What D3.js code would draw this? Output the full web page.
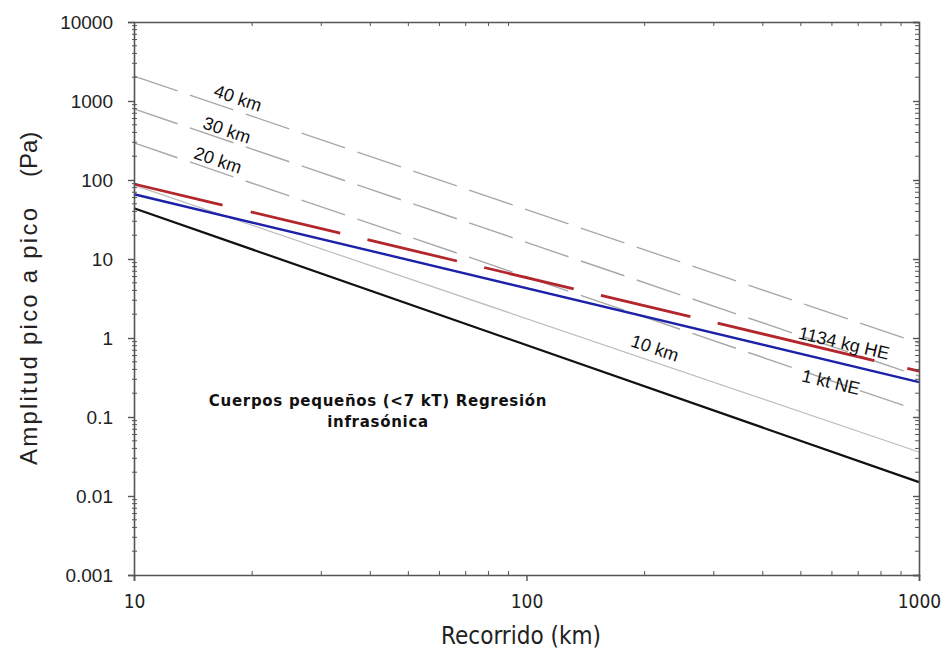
<!DOCTYPE html>
<html>
<head>
<meta charset="utf-8">
<script src="https://cdn.jsdelivr.net/npm/d3@7"></script>
<style>
  html, body { margin: 0; padding: 0; background: #fff; }
  svg { display: block; }
  .tick text { font-family: "Liberation Sans", Arial, sans-serif; }
</style>
</head>
<body>
<svg id="chart" width="946" height="652"></svg>
<script>
// ---------- data ----------
const xDomain = [10, 1000];
const yDomain = [0.001, 10000];
const xTicks = [10, 100, 1000];
const xTickLabels = ["10", "100", "1000"];
const yTicks = [0.001, 0.01, 0.1, 1, 10, 100, 1000, 10000];
const yTickLabels = ["0.001", "0.01", "0.1", "1", "10", "100", "1000", "10000"];

// line endpoints (range km -> amplitude Pa)
const rangeKm = [10, 1000];
const alt40km = [2070, 0.86];
const alt30km = [794, 0.33];
const alt20km = [295, 0.12];
const alt10km = [86, 0.036];
const he1134kg = [89, 0.38];
const ne1kt = [66, 0.277];
const regression = [44, 0.015];

const xTitle = "Recorrido (km)";
const yTitleMain = "Amplitud pico a pico";
const yTitleUnit = "(Pa)";
const noteLines = ["Cuerpos pequeños (<7 kT) Regresión", "infrasónica"];

// ---------- layout ----------
const svg = d3.select("#chart");
const L = 134, R = 919, T = 22, B = 575;
const x = d3.scaleLog().domain(xDomain).range([L, R]);
const y = d3.scaleLog().domain(yDomain).range([B, T]);

const axisColor = "#555";

// minor tick values
const xMinor = [];
for (let d = 10; d < 1000; d *= 10) for (let k = 2; k <= 9; k++) xMinor.push(d * k);
const yMinor = [];
for (let d = 0.001; d < 10000; d *= 10) for (let k = 2; k <= 9; k++) yMinor.push(+(d * k).toPrecision(3));

// ---------- series ----------
const mk = (vals) => rangeKm.map((r, i) => ({ r, v: vals[i] }));
const line = d3.line().x(d => x(d.r)).y(d => y(d.v));
const plot = svg.append("g");

const series = [
  { vals: alt10km, stroke: "#bcbcbc", w: 1.2, dash: null },
  { vals: alt20km, stroke: "#a8a8a8", w: 1.4, dash: "46,13" },
  { vals: alt30km, stroke: "#a8a8a8", w: 1.4, dash: "46,13" },
  { vals: alt40km, stroke: "#a8a8a8", w: 1.4, dash: "46,13" },
  { vals: regression, stroke: "#111", w: 2.2, dash: null },
  { vals: ne1kt, stroke: "#1c22a8", w: 2.4, dash: null },
  { vals: he1134kg, stroke: "#b3262b", w: 2.8, dash: "91,29,92,28,92,28,92,28,92,28,161,34,40,1000" }
];
series.forEach(s => {
  plot.append("path")
    .datum(mk(s.vals))
    .attr("d", line)
    .attr("fill", "none")
    .attr("stroke", s.stroke)
    .attr("stroke-width", s.w)
    .attr("stroke-dasharray", s.dash);
});

// ---------- axes ----------
const gx = svg.append("g").attr("transform", `translate(0,${B})`)
  .call(d3.axisBottom(x).tickValues(xTicks).tickFormat((d, i) => xTickLabels[i]).tickSize(6).tickPadding(14));
gx.select(".domain").attr("stroke", axisColor).attr("stroke-width", 1.6);
gx.selectAll(".tick line").attr("stroke", axisColor).attr("stroke-width", 1.4);
gx.selectAll(".tick text").attr("fill", "#222")
  .style("font-family", "'Liberation Sans Narrow','DejaVu Sans Condensed',sans-serif").style("font-size", "19px");
gx.append("g").selectAll("line").data(xMinor).join("line")
  .attr("x1", d => x(d)).attr("x2", d => x(d)).attr("y1", 0).attr("y2", -4)
  .attr("stroke", axisColor).attr("stroke-width", 1);

const gy = svg.append("g").attr("transform", `translate(${L},0)`)
  .call(d3.axisLeft(y).tickValues(yTicks).tickFormat((d, i) => yTickLabels[i]).tickSize(6).tickPadding(15));
gy.select(".domain").attr("stroke", axisColor).attr("stroke-width", 1.6);
gy.selectAll(".tick line").attr("stroke", axisColor).attr("stroke-width", 1.4);
gy.selectAll(".tick text").attr("fill", "#222").style("font-size", "19px");
gy.append("g").selectAll("line").data(yMinor).join("line")
  .attr("x1", -2).attr("x2", 3).attr("y1", d => y(d)).attr("y2", d => y(d))
  .attr("stroke", axisColor).attr("stroke-width", 1);

// top frame
const gt = svg.append("g").attr("transform", `translate(0,${T})`)
  .call(d3.axisTop(x).tickValues(xTicks).tickFormat("").tickSize(0));
gt.select(".domain").attr("stroke", axisColor).attr("stroke-width", 1.6);
gt.append("g").selectAll("line").data(xMinor).join("line")
  .attr("x1", d => x(d)).attr("x2", d => x(d)).attr("y1", 0).attr("y2", 4)
  .attr("stroke", axisColor).attr("stroke-width", 1);

// right frame
const gr = svg.append("g").attr("transform", `translate(${R},0)`)
  .call(d3.axisRight(y).tickValues(yTicks).tickFormat("").tickSize(-6));
gr.select(".domain").attr("stroke", axisColor).attr("stroke-width", 1.6);
gr.selectAll(".tick line").attr("stroke", axisColor).attr("stroke-width", 1.4);
gr.append("g").selectAll("line").data(yMinor).join("line")
  .attr("x1", -4).attr("x2", 0).attr("y1", d => y(d)).attr("y2", d => y(d))
  .attr("stroke", axisColor).attr("stroke-width", 1);

// ---------- titles ----------
svg.append("text")
  .attr("x", 521).attr("y", 644)
  .attr("text-anchor", "middle")
  .style("font-family", "'Liberation Sans Narrow','DejaVu Sans Condensed',sans-serif")
  .style("font-size", "24px").attr("fill", "#222")
  .text(xTitle);

// y title: main part from y=465 up to y=208, unit from 177 to 132
svg.append("text")
  .attr("transform", `translate(37,465) rotate(-90)`)
  .attr("text-anchor", "start")
  .attr("textLength", 257).attr("lengthAdjust", "spacing")
  .style("font-family", "'Liberation Sans', Arial, sans-serif")
  .style("font-size", "24px").attr("fill", "#222")
  .text(yTitleMain);
svg.append("text")
  .attr("transform", `translate(37,177) rotate(-90)`)
  .attr("text-anchor", "start")
  .style("font-family", "'Liberation Sans', Arial, sans-serif")
  .style("font-size", "24px").attr("fill", "#222")
  .text(yTitleUnit);

// ---------- annotations on lines ----------
function angleOf(vals) {
  const p = mk(vals);
  const dx = x(p[1].r) - x(p[0].r), dy = y(p[1].v) - y(p[0].v);
  return Math.atan2(dy, dx) * 180 / Math.PI;
}
const lineLabels = [
  { text: "40 km", cx: 238, cy: 98, vals: alt40km },
  { text: "30 km", cx: 227, cy: 130, vals: alt30km },
  { text: "20 km", cx: 218, cy: 160, vals: alt20km },
  { text: "10 km", cx: 655, cy: 348, vals: alt10km },
  { text: "1134 kg HE", cx: 844, cy: 343, vals: he1134kg },
  { text: "1 kt NE", cx: 831, cy: 382, vals: ne1kt }
];
lineLabels.forEach(l => {
  svg.append("text")
    .attr("transform", `translate(${l.cx},${l.cy}) rotate(${angleOf(l.vals)})`)
    .attr("text-anchor", "middle").attr("dy", "0.35em")
    .style("font-family", "'Liberation Sans', Arial, sans-serif")
    .style("font-size", "18px").attr("fill", "#111")
    .text(l.text);
});

// note
const note = svg.append("text")
  .attr("text-anchor", "middle")
  .style("font-family", "'DejaVu Sans', Verdana, sans-serif")
  .style("font-weight", "bold").style("font-size", "15px")
  .style("letter-spacing", "0.7px").attr("fill", "#111");
noteLines.forEach((t, i) => {
  note.append("tspan").attr("x", 378).attr("y", 406 + i * 21).text(t);
});
</script>
</body>
</html>
